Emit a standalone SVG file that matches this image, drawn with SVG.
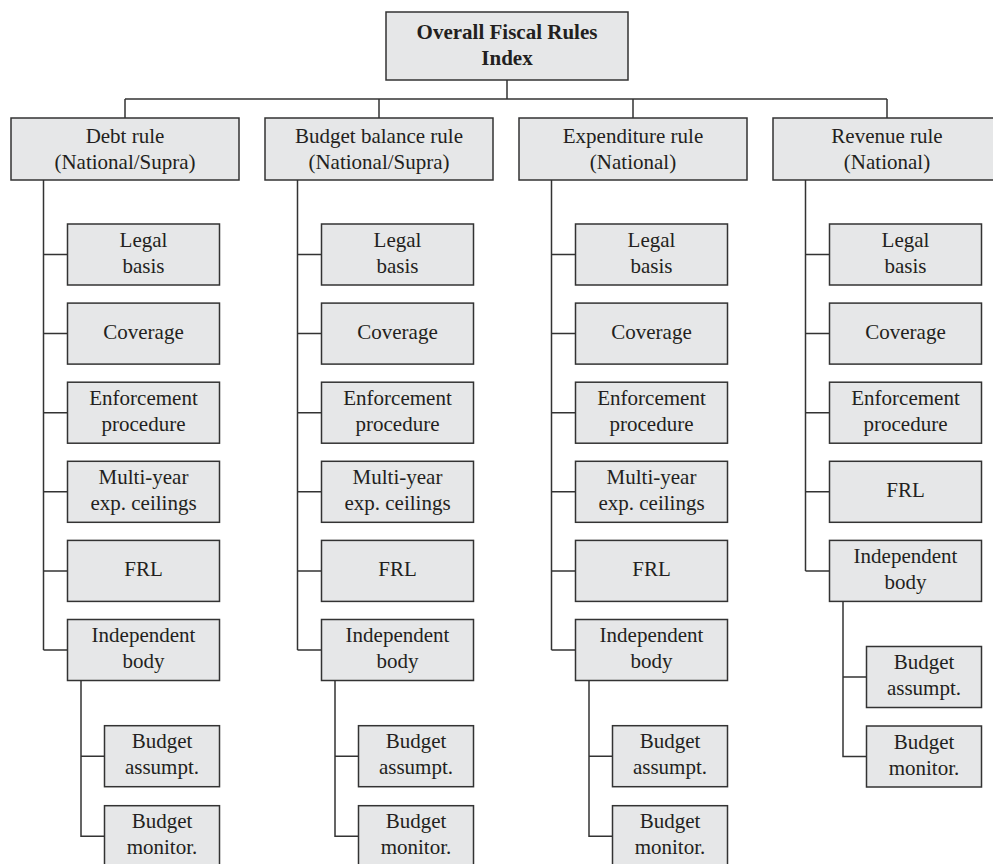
<svg xmlns="http://www.w3.org/2000/svg" width="993" height="864" viewBox="0 0 993 864">
  <style>
    .box { fill: #e6e7e8; stroke: #333333; stroke-width: 1.5; }
    .link { fill: none; stroke: #333333; stroke-width: 1.5; }
    text { font-family: "Liberation Serif", "Times New Roman", serif; font-size: 21px; fill: #231f20; text-anchor: middle; }
    .bold { font-weight: bold; }
  </style>
  <rect width="993" height="864" fill="#ffffff"/>

  <!-- connectors -->
  <g id="connectors" class="link">
    <!-- root to rule boxes -->
    <path d="M507 80 V99 M125 99 H887 M125 99 V118 M379 99 V118 M633 99 V118 M887 99 V118"/>
    <!-- debt rule -->
    <path d="M43.5 180 V650 M43.5 254.5 H67.5 M43.5 333.6 H67.5 M43.5 412.7 H67.5 M43.5 491.8 H67.5 M43.5 570.9 H67.5 M43.5 650 H67.5"/>
    <path d="M81 680.5 V836.2 H104.5 M81 756.2 H104.5"/>
    <!-- budget balance rule -->
    <path d="M297.5 180 V650 M297.5 254.5 H321.5 M297.5 333.6 H321.5 M297.5 412.7 H321.5 M297.5 491.8 H321.5 M297.5 570.9 H321.5 M297.5 650 H321.5"/>
    <path d="M335 680.5 V836.2 H358.5 M335 756.2 H358.5"/>
    <!-- expenditure rule -->
    <path d="M551.5 180 V650 M551.5 254.5 H575.5 M551.5 333.6 H575.5 M551.5 412.7 H575.5 M551.5 491.8 H575.5 M551.5 570.9 H575.5 M551.5 650 H575.5"/>
    <path d="M589 680.5 V836.2 H612.5 M589 756.2 H612.5"/>
    <!-- revenue rule -->
    <path d="M805.5 180 V571 M805.5 254.5 H829.5 M805.5 333.6 H829.5 M805.5 412.7 H829.5 M805.5 491.8 H829.5 M805.5 571 H829.5"/>
    <path d="M843 601.5 V756.5 H866.5 M843 677 H866.5"/>
  </g>

  <!-- root -->
  <g id="root">
    <rect class="box" x="386" y="12" width="242" height="68"/>
    <text class="bold" x="507" y="39">Overall Fiscal Rules</text>
    <text class="bold" x="507" y="65">Index</text>
  </g>

  <!-- rule boxes -->
  <g id="debt-rule">
    <rect class="box" x="11" y="118" width="228" height="62"/>
    <text x="125" y="143">Debt rule</text>
    <text x="125" y="169">(National/Supra)</text>
  </g>
  <g id="budget-balance-rule">
    <rect class="box" x="265" y="118" width="228" height="62"/>
    <text x="379" y="143">Budget balance rule</text>
    <text x="379" y="169">(National/Supra)</text>
  </g>
  <g id="expenditure-rule">
    <rect class="box" x="519" y="118" width="228" height="62"/>
    <text x="633" y="143">Expenditure rule</text>
    <text x="633" y="169">(National)</text>
  </g>
  <g id="revenue-rule">
    <rect class="box" x="773" y="118" width="228" height="62"/>
    <text x="887" y="143">Revenue rule</text>
    <text x="887" y="169">(National)</text>
  </g>

  <!-- debt rule components -->
  <g id="debt-legal">
    <rect class="box" x="67.5" y="224" width="152" height="61"/>
    <text x="143.5" y="246.5">Legal</text><text x="143.5" y="272.5">basis</text>
  </g>
  <g id="debt-coverage">
    <rect class="box" x="67.5" y="303.1" width="152" height="61"/>
    <text x="143.5" y="339">Coverage</text>
  </g>
  <g id="debt-enforcement">
    <rect class="box" x="67.5" y="382.2" width="152" height="61"/>
    <text x="143.5" y="404.7">Enforcement</text><text x="143.5" y="430.7">procedure</text>
  </g>
  <g id="debt-multiyear">
    <rect class="box" x="67.5" y="461.3" width="152" height="61"/>
    <text x="143.5" y="483.8">Multi-year</text><text x="143.5" y="509.8">exp. ceilings</text>
  </g>
  <g id="debt-frl">
    <rect class="box" x="67.5" y="540.4" width="152" height="61"/>
    <text x="143.5" y="576.3">FRL</text>
  </g>
  <g id="debt-independent">
    <rect class="box" x="67.5" y="619.5" width="152" height="61"/>
    <text x="143.5" y="642">Independent</text><text x="143.5" y="668">body</text>
  </g>
  <g id="debt-assumpt">
    <rect class="box" x="104.5" y="725.7" width="115" height="61"/>
    <text x="162" y="748.2">Budget</text><text x="162" y="774.2">assumpt.</text>
  </g>
  <g id="debt-monitor">
    <rect class="box" x="104.5" y="805.7" width="115" height="61"/>
    <text x="162" y="828.2">Budget</text><text x="162" y="854.2">monitor.</text>
  </g>

  <!-- budget balance rule components -->
  <g id="balance-legal">
    <rect class="box" x="321.5" y="224" width="152" height="61"/>
    <text x="397.5" y="246.5">Legal</text><text x="397.5" y="272.5">basis</text>
  </g>
  <g id="balance-coverage">
    <rect class="box" x="321.5" y="303.1" width="152" height="61"/>
    <text x="397.5" y="339">Coverage</text>
  </g>
  <g id="balance-enforcement">
    <rect class="box" x="321.5" y="382.2" width="152" height="61"/>
    <text x="397.5" y="404.7">Enforcement</text><text x="397.5" y="430.7">procedure</text>
  </g>
  <g id="balance-multiyear">
    <rect class="box" x="321.5" y="461.3" width="152" height="61"/>
    <text x="397.5" y="483.8">Multi-year</text><text x="397.5" y="509.8">exp. ceilings</text>
  </g>
  <g id="balance-frl">
    <rect class="box" x="321.5" y="540.4" width="152" height="61"/>
    <text x="397.5" y="576.3">FRL</text>
  </g>
  <g id="balance-independent">
    <rect class="box" x="321.5" y="619.5" width="152" height="61"/>
    <text x="397.5" y="642">Independent</text><text x="397.5" y="668">body</text>
  </g>
  <g id="balance-assumpt">
    <rect class="box" x="358.5" y="725.7" width="115" height="61"/>
    <text x="416" y="748.2">Budget</text><text x="416" y="774.2">assumpt.</text>
  </g>
  <g id="balance-monitor">
    <rect class="box" x="358.5" y="805.7" width="115" height="61"/>
    <text x="416" y="828.2">Budget</text><text x="416" y="854.2">monitor.</text>
  </g>

  <!-- expenditure rule components -->
  <g id="expenditure-legal">
    <rect class="box" x="575.5" y="224" width="152" height="61"/>
    <text x="651.5" y="246.5">Legal</text><text x="651.5" y="272.5">basis</text>
  </g>
  <g id="expenditure-coverage">
    <rect class="box" x="575.5" y="303.1" width="152" height="61"/>
    <text x="651.5" y="339">Coverage</text>
  </g>
  <g id="expenditure-enforcement">
    <rect class="box" x="575.5" y="382.2" width="152" height="61"/>
    <text x="651.5" y="404.7">Enforcement</text><text x="651.5" y="430.7">procedure</text>
  </g>
  <g id="expenditure-multiyear">
    <rect class="box" x="575.5" y="461.3" width="152" height="61"/>
    <text x="651.5" y="483.8">Multi-year</text><text x="651.5" y="509.8">exp. ceilings</text>
  </g>
  <g id="expenditure-frl">
    <rect class="box" x="575.5" y="540.4" width="152" height="61"/>
    <text x="651.5" y="576.3">FRL</text>
  </g>
  <g id="expenditure-independent">
    <rect class="box" x="575.5" y="619.5" width="152" height="61"/>
    <text x="651.5" y="642">Independent</text><text x="651.5" y="668">body</text>
  </g>
  <g id="expenditure-assumpt">
    <rect class="box" x="612.5" y="725.7" width="115" height="61"/>
    <text x="670" y="748.2">Budget</text><text x="670" y="774.2">assumpt.</text>
  </g>
  <g id="expenditure-monitor">
    <rect class="box" x="612.5" y="805.7" width="115" height="61"/>
    <text x="670" y="828.2">Budget</text><text x="670" y="854.2">monitor.</text>
  </g>

  <!-- revenue rule components -->
  <g id="revenue-legal">
    <rect class="box" x="829.5" y="224" width="152" height="61"/>
    <text x="905.5" y="246.5">Legal</text><text x="905.5" y="272.5">basis</text>
  </g>
  <g id="revenue-coverage">
    <rect class="box" x="829.5" y="303.1" width="152" height="61"/>
    <text x="905.5" y="339">Coverage</text>
  </g>
  <g id="revenue-enforcement">
    <rect class="box" x="829.5" y="382.2" width="152" height="61"/>
    <text x="905.5" y="404.7">Enforcement</text><text x="905.5" y="430.7">procedure</text>
  </g>
  <g id="revenue-frl">
    <rect class="box" x="829.5" y="461.3" width="152" height="61"/>
    <text x="905.5" y="497.2">FRL</text>
  </g>
  <g id="revenue-independent">
    <rect class="box" x="829.5" y="540.4" width="152" height="61"/>
    <text x="905.5" y="562.9">Independent</text><text x="905.5" y="588.9">body</text>
  </g>
  <g id="revenue-assumpt">
    <rect class="box" x="866.5" y="646.5" width="115" height="61"/>
    <text x="924" y="669">Budget</text><text x="924" y="695">assumpt.</text>
  </g>
  <g id="revenue-monitor">
    <rect class="box" x="866.5" y="726" width="115" height="61"/>
    <text x="924" y="748.5">Budget</text><text x="924" y="774.5">monitor.</text>
  </g>
</svg>
